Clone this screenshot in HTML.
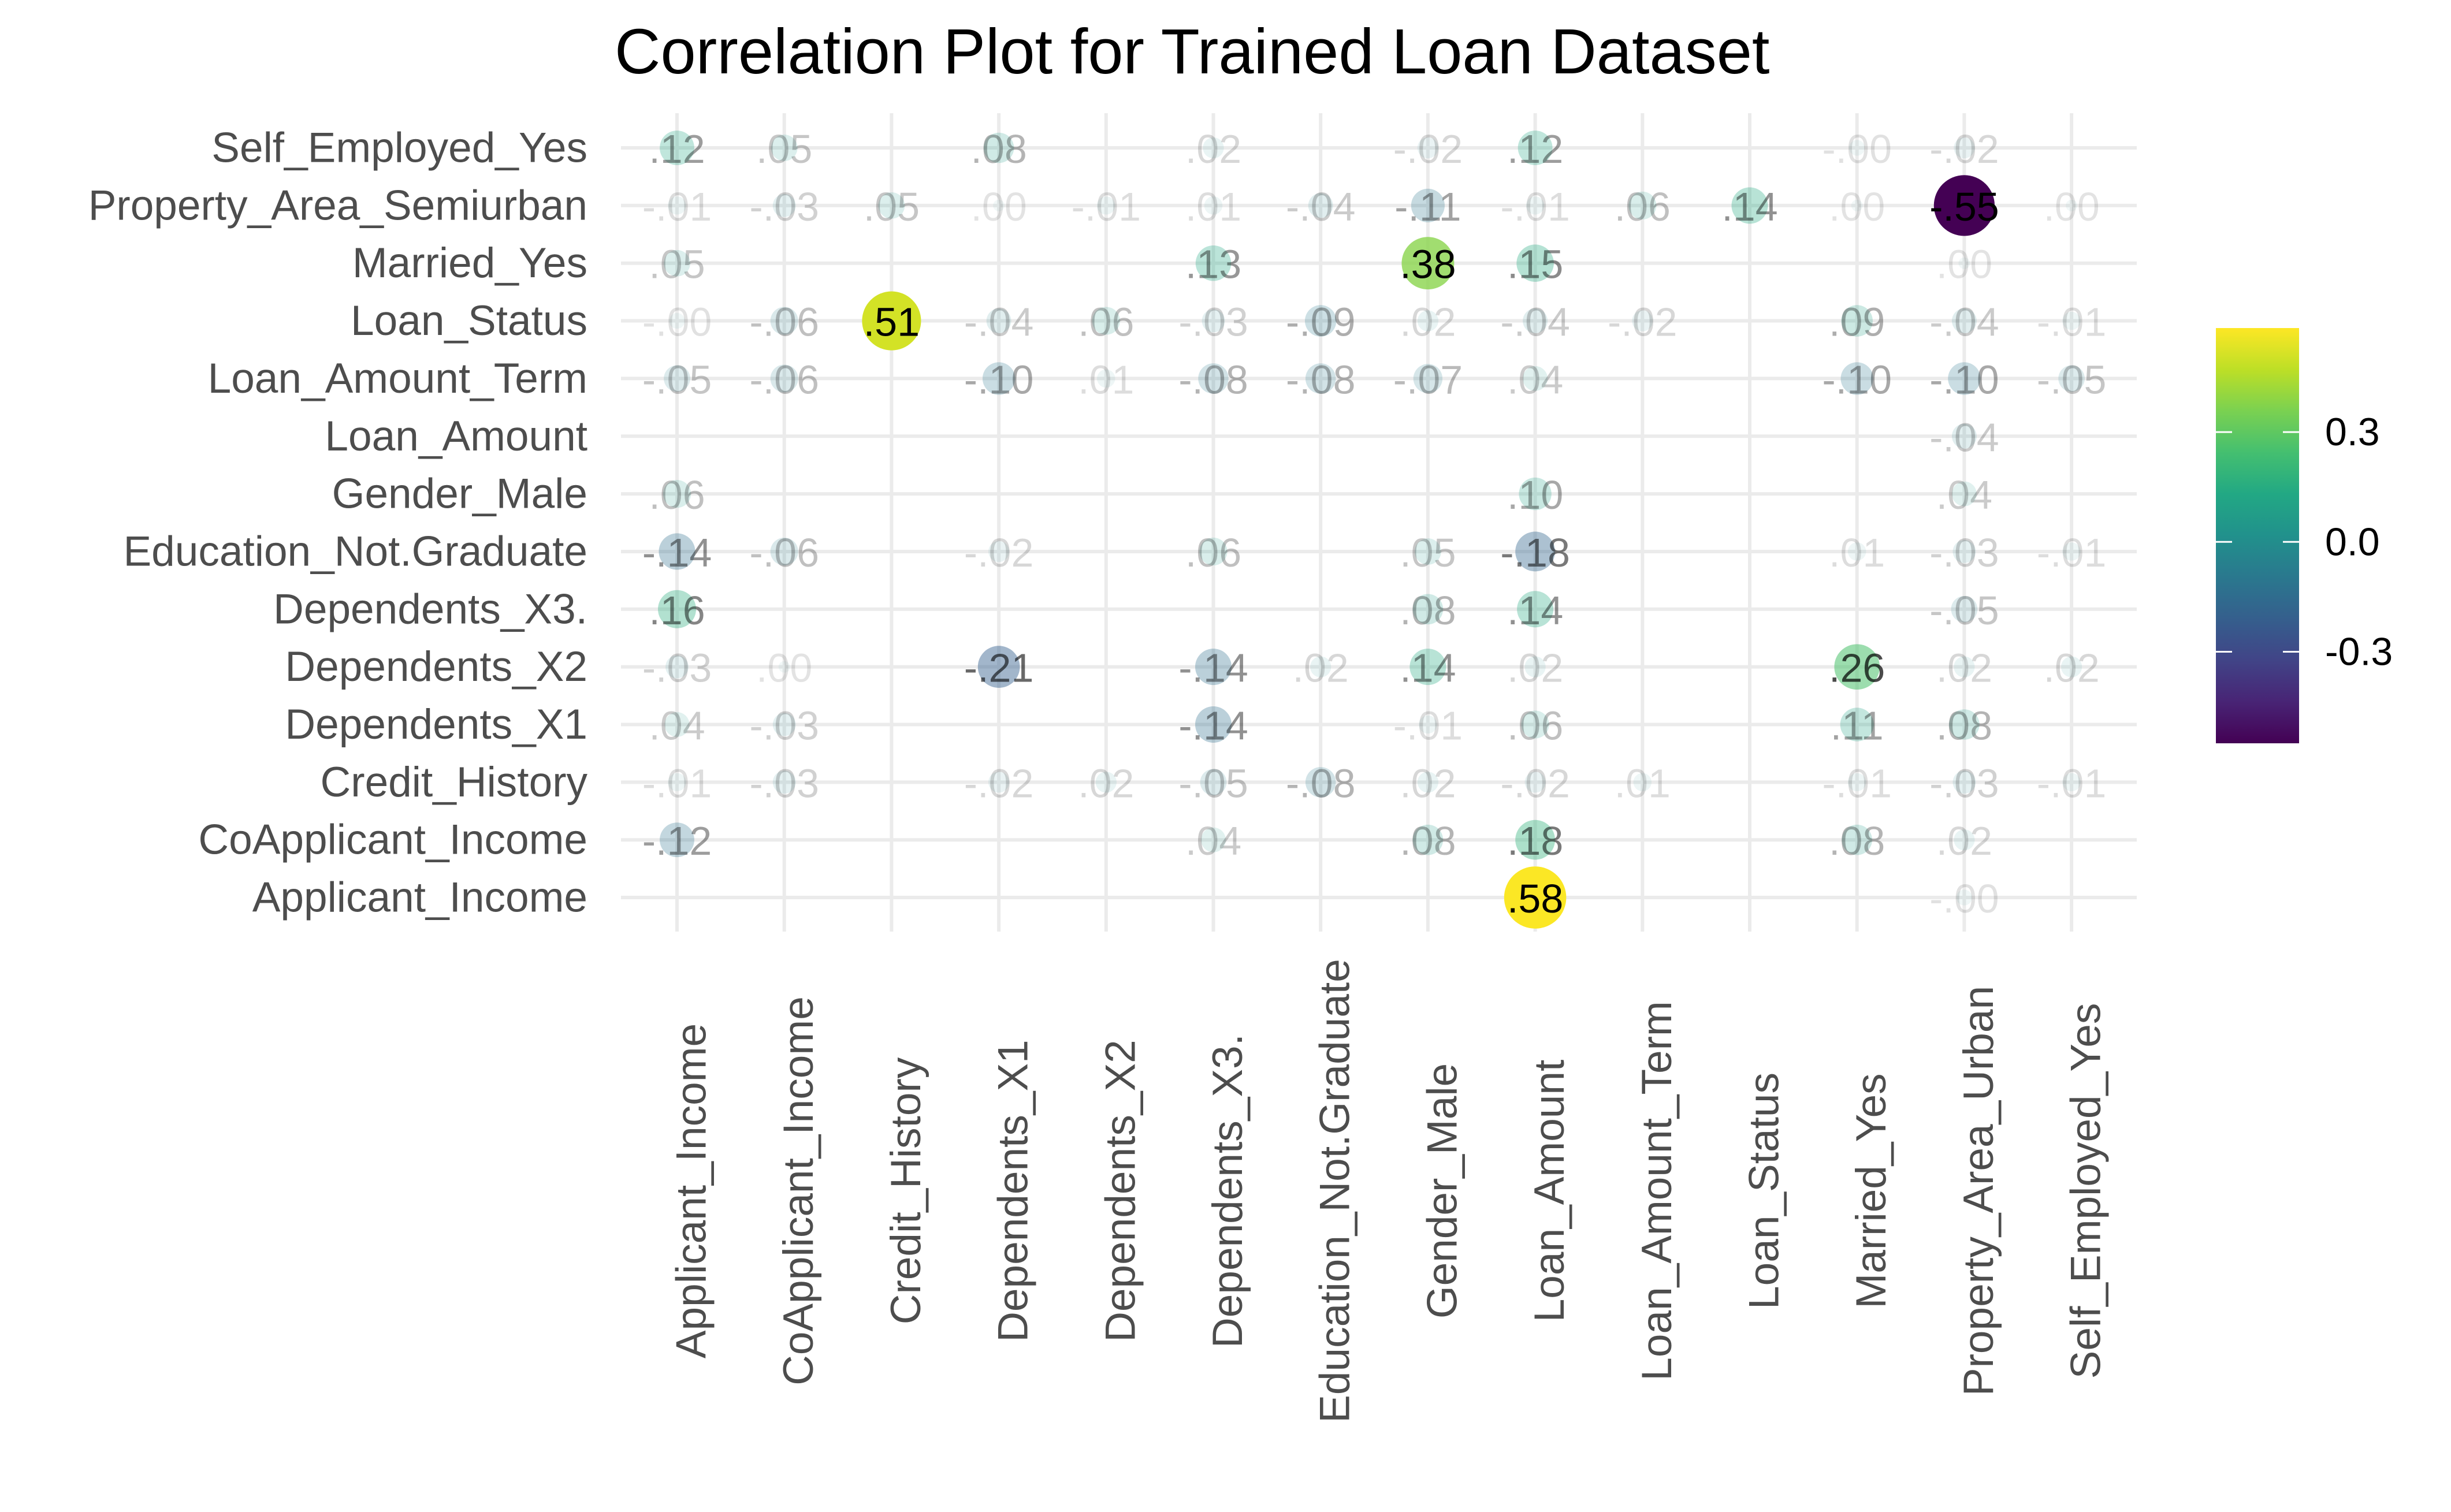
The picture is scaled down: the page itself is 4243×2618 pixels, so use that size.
<!DOCTYPE html>
<html><head><meta charset="utf-8"><style>
html,body{margin:0;padding:0;background:#fff;}
svg{display:block;font-family:"Liberation Sans",Arial,sans-serif;}
</style></head><body>
<svg id="chart" width="4243" height="2618" viewBox="0 0 4243 2618" xmlns="http://www.w3.org/2000/svg">
<defs>
<linearGradient id="vir" x1="0" y1="1" x2="0" y2="0">
<stop offset="0" stop-color="#440154"/><stop offset="0.1" stop-color="#482475"/><stop offset="0.2" stop-color="#414487"/><stop offset="0.3" stop-color="#355f8d"/><stop offset="0.4" stop-color="#2a788e"/><stop offset="0.5" stop-color="#21918c"/><stop offset="0.6" stop-color="#22a884"/><stop offset="0.7" stop-color="#44bf70"/><stop offset="0.8" stop-color="#7ad151"/><stop offset="0.9" stop-color="#bddf26"/><stop offset="1" stop-color="#fde725"/>
</linearGradient>
</defs>
<text x="1064" y="127" font-size="110" fill="#000">Correlation Plot for Trained Loan Dataset</text>
<g id="grid"></g>
<g id="ylabels"></g>
<g id="xlabels"></g>
<g id="marks"></g>
<g id="legend">
<rect x="3836" y="568" width="144" height="719" fill="url(#vir)"/>
</g>
</svg>
<script>
const cols = ["Applicant_Income","CoApplicant_Income","Credit_History","Dependents_X1","Dependents_X2","Dependents_X3.","Education_Not.Graduate","Gender_Male","Loan_Amount","Loan_Amount_Term","Loan_Status","Married_Yes","Property_Area_Urban","Self_Employed_Yes"];
const rows = ["Self_Employed_Yes","Property_Area_Semiurban","Married_Yes","Loan_Status","Loan_Amount_Term","Loan_Amount","Gender_Male","Education_Not.Graduate","Dependents_X3.","Dependents_X2","Dependents_X1","Credit_History","CoApplicant_Income","Applicant_Income"];
const N = null;
const rSelfEmp   = [0.12,0.05,N,0.08,N,0.02,N,-0.02,0.12,N,N,-0.004,-0.02,N];
const rSemiurban = [-0.01,-0.03,0.05,0.00,-0.01,0.01,-0.04,-0.11,-0.01,0.06,0.14,0.00,-0.55,0.00];
const rMarried   = [0.05,N,N,N,N,0.13,N,0.38,0.15,N,N,N,0.00,N];
const rLoanStat  = [-0.004,-0.06,0.51,-0.04,0.06,-0.03,-0.09,0.02,-0.04,-0.02,N,0.09,-0.04,-0.01];
const rLoanTerm  = [-0.05,-0.06,N,-0.10,0.01,-0.08,-0.08,-0.07,0.04,N,N,-0.10,-0.10,-0.05];
const rLoanAmt   = [N,N,N,N,N,N,N,N,N,N,N,N,-0.04,N];
const rGender    = [0.06,N,N,N,N,N,N,N,0.10,N,N,N,0.04,N];
const rEduc      = [-0.14,-0.06,N,-0.02,N,0.06,N,0.05,-0.18,N,N,0.01,-0.03,-0.01];
const rDep3      = [0.16,N,N,N,N,N,N,0.08,0.14,N,N,N,-0.05,N];
const rDep2      = [-0.03,0.00,N,-0.21,N,-0.14,0.02,0.14,0.02,N,N,0.26,0.02,0.02];
const rDep1      = [0.04,-0.03,N,N,N,-0.14,N,-0.01,0.06,N,N,0.11,0.08,N];
const rCredit    = [-0.01,-0.03,N,-0.02,0.02,-0.05,-0.08,0.02,-0.02,0.01,N,-0.01,-0.03,-0.01];
const rCoApp     = [-0.12,N,N,N,N,0.04,N,0.08,0.18,N,N,0.08,0.02,N];
const rAppInc    = [N,N,N,N,N,N,N,N,0.58,N,N,N,-0.004,N];
const matrix = [rSelfEmp,rSemiurban,rMarried,rLoanStat,rLoanTerm,rLoanAmt,rGender,rEduc,rDep3,rDep2,rDep1,rCredit,rCoApp,rAppInc];
const legendTicks = [0.3, 0.0, -0.3];
const legendTickLabels = ["0.3","0.0","-0.3"];
const cMin = -0.55, cMax = 0.584;

const NS = "http://www.w3.org/2000/svg";
function mk(tag, attrs, parent){const e=document.createElementNS(NS,tag);for(const k in attrs)e.setAttribute(k,attrs[k]);parent.appendChild(e);return e;}
const xScale = i => 1172 + i*185.7;
const yScale = j => 256 + j*99.85;
const legY = v => 568 + (cMax - v)/(cMax - cMin)*719;
const stops=["#440154","#482475","#414487","#355f8d","#2a788e","#21918c","#22a884","#44bf70","#7ad151","#bddf26","#fde725"];
function hex(h){return [1,3,5].map(i=>parseInt(h.substr(i,2),16));}
function viridis(v){let t=(v-cMin)/(cMax-cMin);t=Math.max(0,Math.min(1,t))*10;const i=Math.min(9,Math.floor(t)),f=t-i;const a=hex(stops[i]),b=hex(stops[i+1]);return "rgb("+a.map((x,k)=>Math.round(x+(b[k]-x)*f)).join(",")+")";}
function fmt(v){const s=Math.abs(v).toFixed(2).slice(1);return (v<0?"-":"")+s;}

const grid=document.getElementById("grid");
rows.forEach((r,j)=>{
  const l=mk("line",{x1:1075,x2:3699,y1:yScale(j),y2:yScale(j),stroke:"#ebebeb","stroke-width":6},grid);
  
  
});
cols.forEach((c,i)=>{
  const l=mk("line",{x1:xScale(i),x2:xScale(i),y1:196,y2:1613,stroke:"#ebebeb","stroke-width":6},grid);
  
  
});
const yl=document.getElementById("ylabels");
rows.forEach((r,j)=>{
  const t=mk("text",{x:1017,y:yScale(j),"text-anchor":"end","dominant-baseline":"central","font-size":73,fill:"#4d4d4d"},yl);
  t.textContent=r;
  
  
});
const xl=document.getElementById("xlabels");
cols.forEach((c,i)=>{
  const x=xScale(i)+25, y=2062;
  const t=mk("text",{x:x,y:y,"text-anchor":"middle","dominant-baseline":"central","font-size":73,fill:"#4d4d4d",transform:"rotate(-90 "+x+" "+y+")"},xl);
  t.textContent=c;
  
  
});
const marks=document.getElementById("marks");
matrix.forEach((row,j)=>{
  row.forEach((v,i)=>{
    if(v===null) return;
    const a=Math.abs(v);
    const cx=xScale(i), cy=yScale(j);
    const c=mk("circle",{cx:cx,cy:cy,r:(20+115*Math.sqrt(a))/2,fill:viridis(v),"fill-opacity":Math.min(1,0.06+1.9*a)},marks);
    
    
    const t=mk("text",{x:cx,y:cy+2,"text-anchor":"middle","dominant-baseline":"central","font-size":70,fill:"#000","fill-opacity":Math.min(1,0.11+2.3*a)},marks);
    t.textContent=fmt(v);
    
    
  });
});
const leg=document.getElementById("legend");
legendTicks.forEach((v,k)=>{
  const y=legY(v);
  const t1=mk("line",{x1:3836,x2:3864,y1:y,y2:y,stroke:"#fff","stroke-width":3},leg);
  
  
  const t2=mk("line",{x1:3952,x2:3980,y1:y,y2:y,stroke:"#fff","stroke-width":3},leg);
  
  
  const tx=mk("text",{x:4025,y:y,"dominant-baseline":"central","font-size":68,fill:"#000"},leg);
  tx.textContent=legendTickLabels[k];
  
  
});
</script>
</body></html>
